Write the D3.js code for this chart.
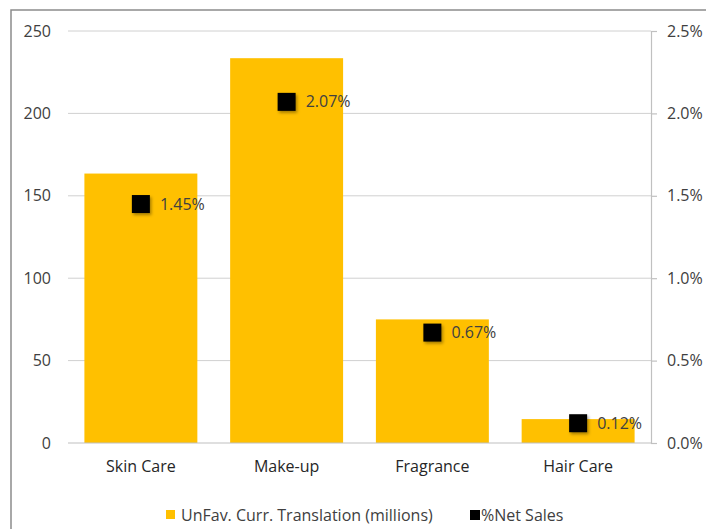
<!DOCTYPE html>
<html>
<head>
<meta charset="utf-8">
<script src="https://cdn.jsdelivr.net/npm/d3@7/dist/d3.min.js"></script>
<style>
  html, body { margin: 0; padding: 0; background: #fff; }
  svg { display: block; }
  svg text { font-family: "Open Sans", "Noto Sans", sans-serif; }
</style>
</head>
<body>
<svg id="chart" width="706" height="529"></svg>
<script>
// Data
const categories = ["Skin Care", "Make-up", "Fragrance", "Hair Care"];
const translation = [163.5, 233.5, 75, 14.5];          // UnFav. Curr. Translation (millions)
const netSalesPct = [1.45, 2.07, 0.67, 0.12];          // %Net Sales
const leftTicks = [0, 50, 100, 150, 200, 250];
const rightTicks = [0, 0.5, 1.0, 1.5, 2.0, 2.5];
const seriesNames = ["UnFav. Curr. Translation (millions)", "%Net Sales"];

const W = 706, H = 529;
const plot = { left: 68, right: 651, top: 31, bottom: 443 };
const barColor = "#FFC000";
const textColor = "#404040";
const fs = "16px";

const svg = d3.select("#chart");

// Drop shadow for the markers
const defs = svg.append("defs");
const f = defs.append("filter").attr("id", "shadow")
  .attr("x", "-30%").attr("y", "-30%").attr("width", "170%").attr("height", "170%");
f.append("feDropShadow").attr("dx", 1.5).attr("dy", 2).attr("stdDeviation", 1.5)
  .attr("flood-color", "#000").attr("flood-opacity", 0.35);

// Chart frame
svg.append("path")
  .attr("d", `M11,${H + 2} L11,10 L${W + 2},10`)
  .attr("fill", "none").attr("stroke", "#8c8c8c").attr("stroke-width", 1.5);

const x = d3.scaleBand().domain(categories)
  .range([plot.left, plot.right]).paddingInner(0.225).paddingOuter(0.1125);
const yL = d3.scaleLinear().domain([0, 250]).range([plot.bottom, plot.top]);
const yR = d3.scaleLinear().domain([0, 2.5]).range([plot.bottom, plot.top]);

// Gridlines
svg.append("g").selectAll("line").data(leftTicks.filter(d => d > 0)).join("line")
  .attr("x1", plot.left).attr("x2", plot.right)
  .attr("y1", d => yL(d)).attr("y2", d => yL(d))
  .attr("stroke", "#d0d0d0").attr("stroke-width", 1);

// Left axis labels
const gL = svg.append("g").attr("transform", `translate(${plot.left},0)`)
  .call(d3.axisLeft(yL).tickValues(leftTicks).tickSize(0).tickPadding(17).tickFormat(d3.format("d")));
gL.attr("font-family", null).attr("font-size", null);
gL.select(".domain").remove();
gL.selectAll("text").attr("fill", textColor).style("font-size", fs);

// Right axis
const gR = svg.append("g").attr("transform", `translate(${plot.right},0)`)
  .call(d3.axisRight(yR).tickValues(rightTicks).tickSize(6).tickPadding(10)
    .tickFormat(d => d.toFixed(1) + "%"));
gR.attr("font-family", null).attr("font-size", null);
gR.select(".domain").attr("stroke", "#c0c0c0").attr("stroke-width", 1.2);
gR.selectAll(".tick line").attr("stroke", "#c0c0c0").attr("stroke-width", 1.2);
gR.selectAll("text").attr("fill", textColor).style("font-size", fs);

// Bars
svg.append("g").selectAll("rect").data(categories).join("rect")
  .attr("x", d => x(d))
  .attr("width", x.bandwidth())
  .attr("y", (d, i) => yL(translation[i]))
  .attr("height", (d, i) => yL(0) - yL(translation[i]))
  .attr("fill", barColor);

// Category axis
const gX = svg.append("g").attr("transform", `translate(0,${plot.bottom})`)
  .call(d3.axisBottom(x).tickSize(0).tickPadding(18));
gX.attr("font-family", null).attr("font-size", null);
gX.select(".domain").attr("stroke", "#c0c0c0").attr("stroke-width", 1.2)
  .attr("d", `M${plot.left},0H${plot.right}`);
gX.selectAll("text").attr("fill", "#262626").style("font-size", fs);

// Markers for %Net Sales
const ms = 18;
svg.append("g").selectAll("rect").data(categories).join("rect")
  .attr("x", d => x(d) + x.bandwidth() / 2 - ms / 2)
  .attr("y", (d, i) => yR(netSalesPct[i]) - ms / 2)
  .attr("width", ms).attr("height", ms)
  .attr("fill", "#000")
  .attr("filter", "url(#shadow)");

// Marker labels
svg.append("g").selectAll("text").data(categories).join("text")
  .attr("x", d => x(d) + x.bandwidth() / 2 + 19)
  .attr("y", (d, i) => yR(netSalesPct[i]))
  .attr("dy", "0.35em")
  .attr("fill", textColor)
  .style("font-size", fs)
  .text((d, i) => netSalesPct[i].toFixed(2) + "%");

// Legend
const leg = svg.append("g");
leg.append("rect").attr("x", 166).attr("y", 510).attr("width", 9).attr("height", 9).attr("fill", barColor);
leg.append("text").attr("x", 181).attr("y", 515).attr("dy", "0.35em")
  .attr("fill", textColor).style("font-size", fs).text(seriesNames[0]);
leg.append("rect").attr("x", 470).attr("y", 510).attr("width", 10).attr("height", 10).attr("fill", "#000");
leg.append("text").attr("x", 481).attr("y", 515).attr("dy", "0.35em")
  .attr("fill", textColor).style("font-size", fs).text(seriesNames[1]);
</script>
</body>
</html>
